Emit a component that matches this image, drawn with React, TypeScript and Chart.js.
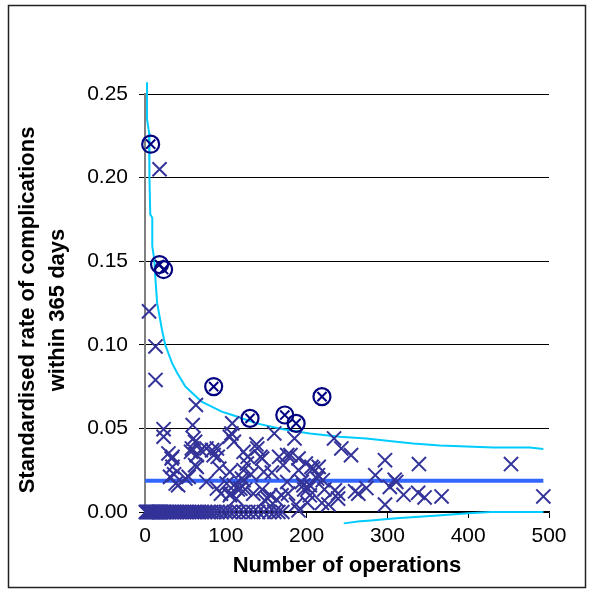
import React, { useEffect, useRef } from "react";
import { Chart, registerables } from "chart.js";
Chart.register(...registerables);

// Units with zero complications (rate = 0)
const zeroX = [1, 2, 3, 4, 5, 6, 7, 8, 9, 10, 11, 12, 13, 14, 15, 16, 17, 18, 19, 20, 22, 24, 26, 28, 30, 32, 34, 36, 38, 40, 43, 46, 49, 52, 55, 58, 61, 64, 67, 70, 74, 78, 82, 86, 90, 95, 100, 105, 110, 116, 122, 128, 134, 140, 147, 154, 160, 165, 170];

// Units within / near limits
const ptX = [18, 5, 13, 13, 63, 23, 23, 59, 29, 34, 34, 36, 38, 41, 50, 57, 62, 64, 69, 64, 76, 83, 90, 92, 94, 101, 107, 110, 106, 110, 115, 113, 120, 122, 127, 124, 131, 138, 143, 145, 148, 152, 157, 160, 166, 171, 176, 180, 185, 190, 194, 197, 199, 204, 208, 213, 215, 220, 201, 190, 222, 227, 234, 239, 239, 243, 255, 260, 264, 274, 285, 297, 297, 303, 309, 311, 320, 339, 338, 346, 367, 453, 493,
  31, 54, 60, 58, 62, 76, 33, 108, 105, 89, 85, 122, 139, 126, 145, 105, 89, 118, 105, 134, 155, 163, 147, 176, 169, 122, 190, 206, 214, 196, 202, 235, 177, 187, 219, 204];
const ptY = [0.205, 0.120, 0.099, 0.079, 0.064, 0.0495, 0.045, 0.052, 0.035, 0.033, 0.027, 0.0225, 0.017, 0.016, 0.020, 0.036, 0.042, 0.034, 0.037, 0.027, 0.038, 0.037, 0.033, 0.026, 0.011, 0.017, 0.047, 0.042, 0.011, 0.016, 0.0135, 0.008, 0.020, 0.025, 0.033, 0.0135, 0.0225, 0.0405, 0.033, 0.0135, 0.007, 0.008, 0.0236, 0.047, 0.033, 0.028, 0.034, 0.034, 0.044, 0.025, 0.018, 0.0135, 0.029, 0.016, 0.026, 0.020, 0.027, 0.019, 0.0056, 0.001, 0.0135, 0.0045, 0.044, 0.008, 0.011, 0.038, 0.034, 0.0124, 0.011, 0.0143, 0.022, 0.031, 0.0044, 0.015, 0.0193, 0.018, 0.0103, 0.0287, 0.0115, 0.0087, 0.0093, 0.0287, 0.0093,
  0.021, 0.021, 0.044, 0.038, 0.028, 0.018, 0.032, 0.053, 0.045, 0.038, 0.034, 0.036, 0.038, 0.029, 0.032, 0.024, 0.014, 0.014, 0.010, 0.011, 0.010, 0.0074, 0.024, 0.018, 0.010, 0.019, 0.032, 0.027, 0.022, 0.016, 0.014, 0.013, 0.011, 0.0044, 0.0054, 0.010];

// Outliers (circled)
const outX = [7, 18, 23, 85, 130, 173, 187, 219];
const outY = [0.220, 0.148, 0.145, 0.075, 0.056, 0.058, 0.053, 0.069];

// Upper control limit
const uclX = [2.5, 2.5, 5, 5.5, 6.5, 9, 9, 11.5, 13, 15, 21, 25, 33.5, 40, 50, 70, 95, 108, 138, 171, 204, 241, 274, 291, 311, 332, 365, 431, 476, 493];
const uclY = [0.257, 0.235, 0.227, 0.200, 0.178, 0.176, 0.159, 0.151, 0.139, 0.125, 0.109, 0.100, 0.089, 0.083, 0.075, 0.066, 0.060, 0.058, 0.053, 0.0495, 0.047, 0.045, 0.044, 0.043, 0.042, 0.041, 0.0398, 0.0386, 0.0386, 0.0377];

// Lower control limit (visible part)
const lclX = [246, 266, 276, 311, 358, 400, 428, 493];
const lclY = [-0.0068, -0.0056, -0.0052, -0.0038, -0.0023, -0.0007, 0.0, 0.0];

// Overall mean rate
const meanX = [0, 493];
const meanRate = 0.0187;

const xTicks = [0, 100, 200, 300, 400, 500];
const yTicks = [0, 0.05, 0.1, 0.15, 0.2, 0.25];

const FONT = "'Liberation Sans', Arial, sans-serif";

export default function App() {
  const ref = useRef<HTMLCanvasElement>(null);
  useEffect(() => {
    if (!ref.current) return;
    const pts = (xs: number[], ys: number[]) => xs.map((x, i) => ({ x, y: ys[i] }));
    const frame = {
      id: "frame",
      afterDraw(chart: any) {
        const ctx = chart.ctx;
        ctx.save();
        ctx.strokeStyle = "#222";
        ctx.lineWidth = 1.5;
        ctx.strokeRect(8.5, 5.5, 577, 582);
        ctx.fillStyle = "#000";
        ctx.font = `bold 22px ${FONT}`;
        ctx.textAlign = "center";
        ctx.textBaseline = "middle";
        ctx.fillText("Number of operations", 347, 566);
        ctx.save();
        ctx.translate(28, 310);
        ctx.rotate(-Math.PI / 2);
        ctx.fillText("Standardised rate of complications", 0, 0);
        ctx.restore();
        ctx.save();
        ctx.translate(58, 310);
        ctx.rotate(-Math.PI / 2);
        ctx.fillText("within 365 days", 0, 0);
        ctx.restore();
        ctx.restore();
      },
    };
    const chart = new Chart(ref.current, {
      type: "scatter",
      data: {
        datasets: [
          {
            data: pts(outX, outY),
            pointStyle: "crossRot",
            pointRadius: 6.5,
            borderColor: "#000080",
            borderWidth: 2,
            clip: false,
            order: 1,
          } as any,
          {
            data: pts(outX, outY),
            pointStyle: "circle",
            pointRadius: 8.5,
            borderColor: "#000080",
            backgroundColor: "rgba(0,0,0,0)",
            borderWidth: 2.2,
            clip: false,
            order: 2,
          },
          {
            data: pts(ptX, ptY),
            pointStyle: "crossRot",
            pointRadius: 10,
            borderColor: "#333399",
            borderWidth: 2,
            clip: false,
            order: 3,
          },
          {
            data: zeroX.map((x) => ({ x, y: 0 })),
            pointStyle: "crossRot",
            pointRadius: 10,
            borderColor: "#333399",
            borderWidth: 2,
            clip: false,
            order: 4,
          },
          {
            data: pts(uclX, uclY),
            showLine: true,
            pointRadius: 0,
            borderColor: "#00CCFF",
            borderWidth: 2,
            clip: false,
            order: 5,
          },
          {
            data: pts(lclX, lclY),
            showLine: true,
            pointRadius: 0,
            borderColor: "#00CCFF",
            borderWidth: 2,
            clip: false,
            order: 5,
          },
          {
            data: meanX.map((x) => ({ x, y: meanRate })),
            showLine: true,
            pointRadius: 0,
            borderColor: "#3366FF",
            borderWidth: 4,
            clip: false,
            order: 6,
          },
        ],
      },
      options: {
        animation: false,
        responsive: false,
        layout: { padding: { top: 94, right: 43, left: 0, bottom: 0 } },
        plugins: { legend: { display: false }, tooltip: { enabled: false } },
        scales: {
          x: {
            type: "linear",
            min: 0,
            max: 500,
            afterFit: (s: any) => { s.height = 78; },
            afterBuildTicks: (s: any) => { s.ticks = xTicks.map((v) => ({ value: v })); },
            ticks: { color: "#000", font: { family: FONT, size: 21 }, padding: 6, maxRotation: 0, callback: (v: any) => String(v) },
            grid: { drawOnChartArea: false, drawTicks: true, tickLength: 6, color: "#000", lineWidth: 1 },
            border: { color: "#000", width: 1.5 },
          },
          y: {
            type: "linear",
            min: 0,
            max: 0.25,
            afterFit: (s: any) => { s.width = 145; },
            afterBuildTicks: (s: any) => { s.ticks = yTicks.map((v) => ({ value: v })); },
            ticks: { color: "#000", font: { family: FONT, size: 21 }, padding: 11, callback: (v: any) => Number(v).toFixed(2) },
            grid: { drawTicks: true, tickLength: 6, color: "#000", lineWidth: 1 },
            border: { color: "#808080", width: 2 },
          },
        },
      },
      plugins: [frame],
    });
    return () => chart.destroy();
  }, []);
  return (
    <div style={{ position: "fixed", left: 0, top: 0, width: 592, height: 590, background: "#fff" }}>
      <canvas ref={ref} width={592} height={590} style={{ display: "block" }} />
    </div>
  );
}
